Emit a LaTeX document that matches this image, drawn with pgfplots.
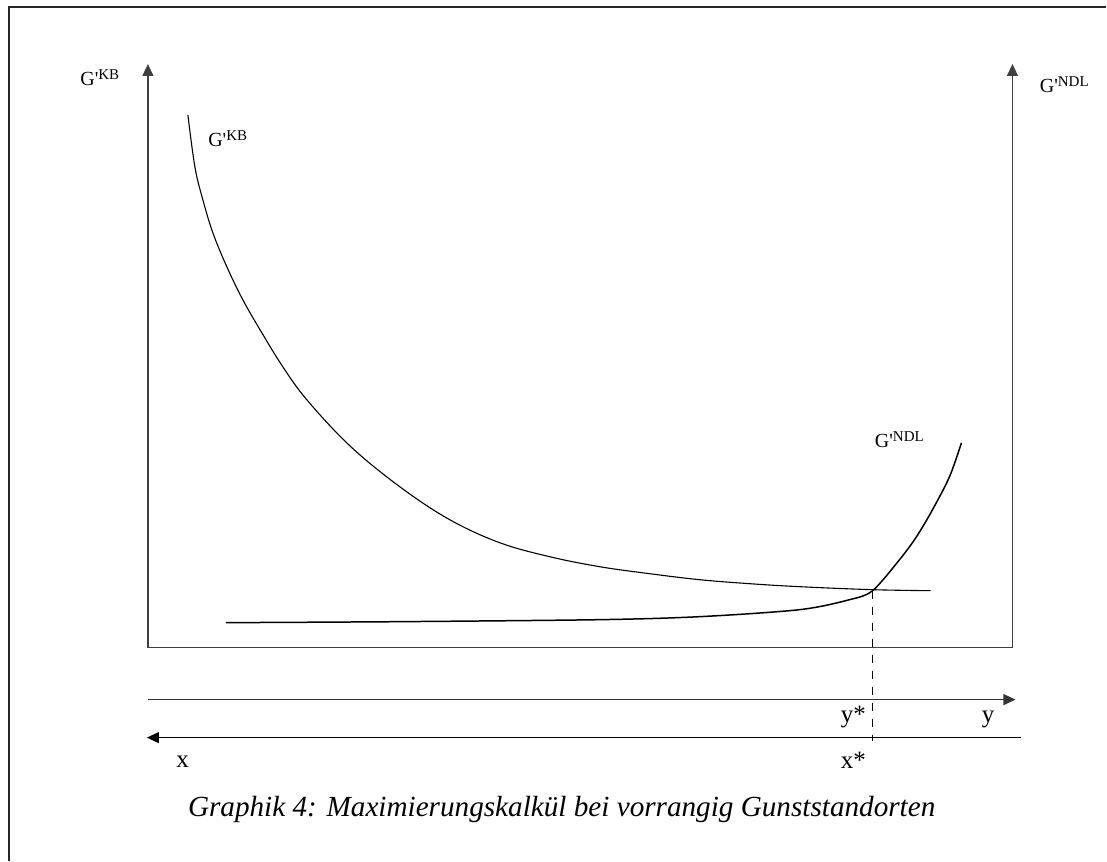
\documentclass[border=0pt]{standalone}
\usepackage{fontspec}
\setmainfont{Liberation Serif}
\usepackage{pgfplots}
\pgfplotsset{compat=1.18}
\usetikzlibrary{arrows.meta}
\newcommand\G[1]{G\textquotesingle\raisebox{0.33em}{\fontsize{7.5}{7.5}\selectfont #1}}
\begin{document}
\begin{tikzpicture}
\begin{axis}[scale only axis, width=553.5pt, height=430.5pt,
  xmin=0, xmax=1107, ymin=0, ymax=861, y dir=reverse,
  axis lines=none, clip=false,
  every node/.style={font=\fontsize{11.5}{13}\selectfont}]
\path (axis cs:0,0) rectangle (axis cs:1107,861);
% frame
\draw[line width=0.6pt, black!85] (axis cs:9,861) -- (axis cs:9,7) -- (axis cs:1107,7);
% axes
\draw[line width=0.6pt, black!75, {Triangle[length=6pt,width=5.5pt]}-{Triangle[length=6pt,width=5.5pt]}]
  (axis cs:148,64) -- (axis cs:148,648) -- (axis cs:1013,648) -- (axis cs:1013,64);
\draw[line width=0.6pt, black!80, -{Triangle[length=6pt,width=5.5pt]}] (axis cs:148,700) -- (axis cs:1016,700);
\draw[line width=0.6pt, black, -{Triangle[length=6pt,width=5.5pt]}] (axis cs:1022,738) -- (axis cs:147,738);
\draw[line width=0.6pt, black, dash pattern=on 4pt off 4pt] (axis cs:873,591) -- (axis cs:873,741);
% curves
\addplot[black, line width=0.55pt, smooth, tension=0.6] coordinates {
(188,115) (195,167) (203,200) (213,233) (227,267) (243,300) (262,333) (283,367)
(307,400) (350,446) (400,487) (450,520) (500,543) (550,557) (600,567) (650,574)
(700,580) (750,584) (800,587) (873,590) (931,591)};
\addplot[black, line width=0.75pt, smooth, tension=0.5] coordinates {
(226,623) (400,622) (600,620) (700,617) (800,610) (850,600) (873,591)
(900,560) (917,537) (933,510) (950,477) (962,443)};
% labels
\node[anchor=base west, inner sep=0pt] at (axis cs:80,86) {\G{KB}};
\node[anchor=base west, inner sep=0pt] at (axis cs:208,147) {\G{KB}};
\node[anchor=base west, inner sep=0pt] at (axis cs:1040,93) {\G{NDL}};
\node[anchor=base west, inner sep=0pt] at (axis cs:875,448) {\G{NDL}};
\begin{scope}[every node/.style={font=\fontsize{12.5}{14}\selectfont, anchor=base west, inner sep=0pt}]
\node at (axis cs:841,723) {y*};
\node at (axis cs:982,723) {y};
\node at (axis cs:176,768) {x};
\node at (axis cs:841,769) {x*};
\end{scope}
\node[anchor=base, inner sep=0pt, font=\fontsize{14.6}{16}\selectfont\itshape] at (axis cs:562,817) {Graphik 4: Maximierungskalkül bei vorrangig Gunststandorten};
\end{axis}
\end{tikzpicture}
\end{document}
